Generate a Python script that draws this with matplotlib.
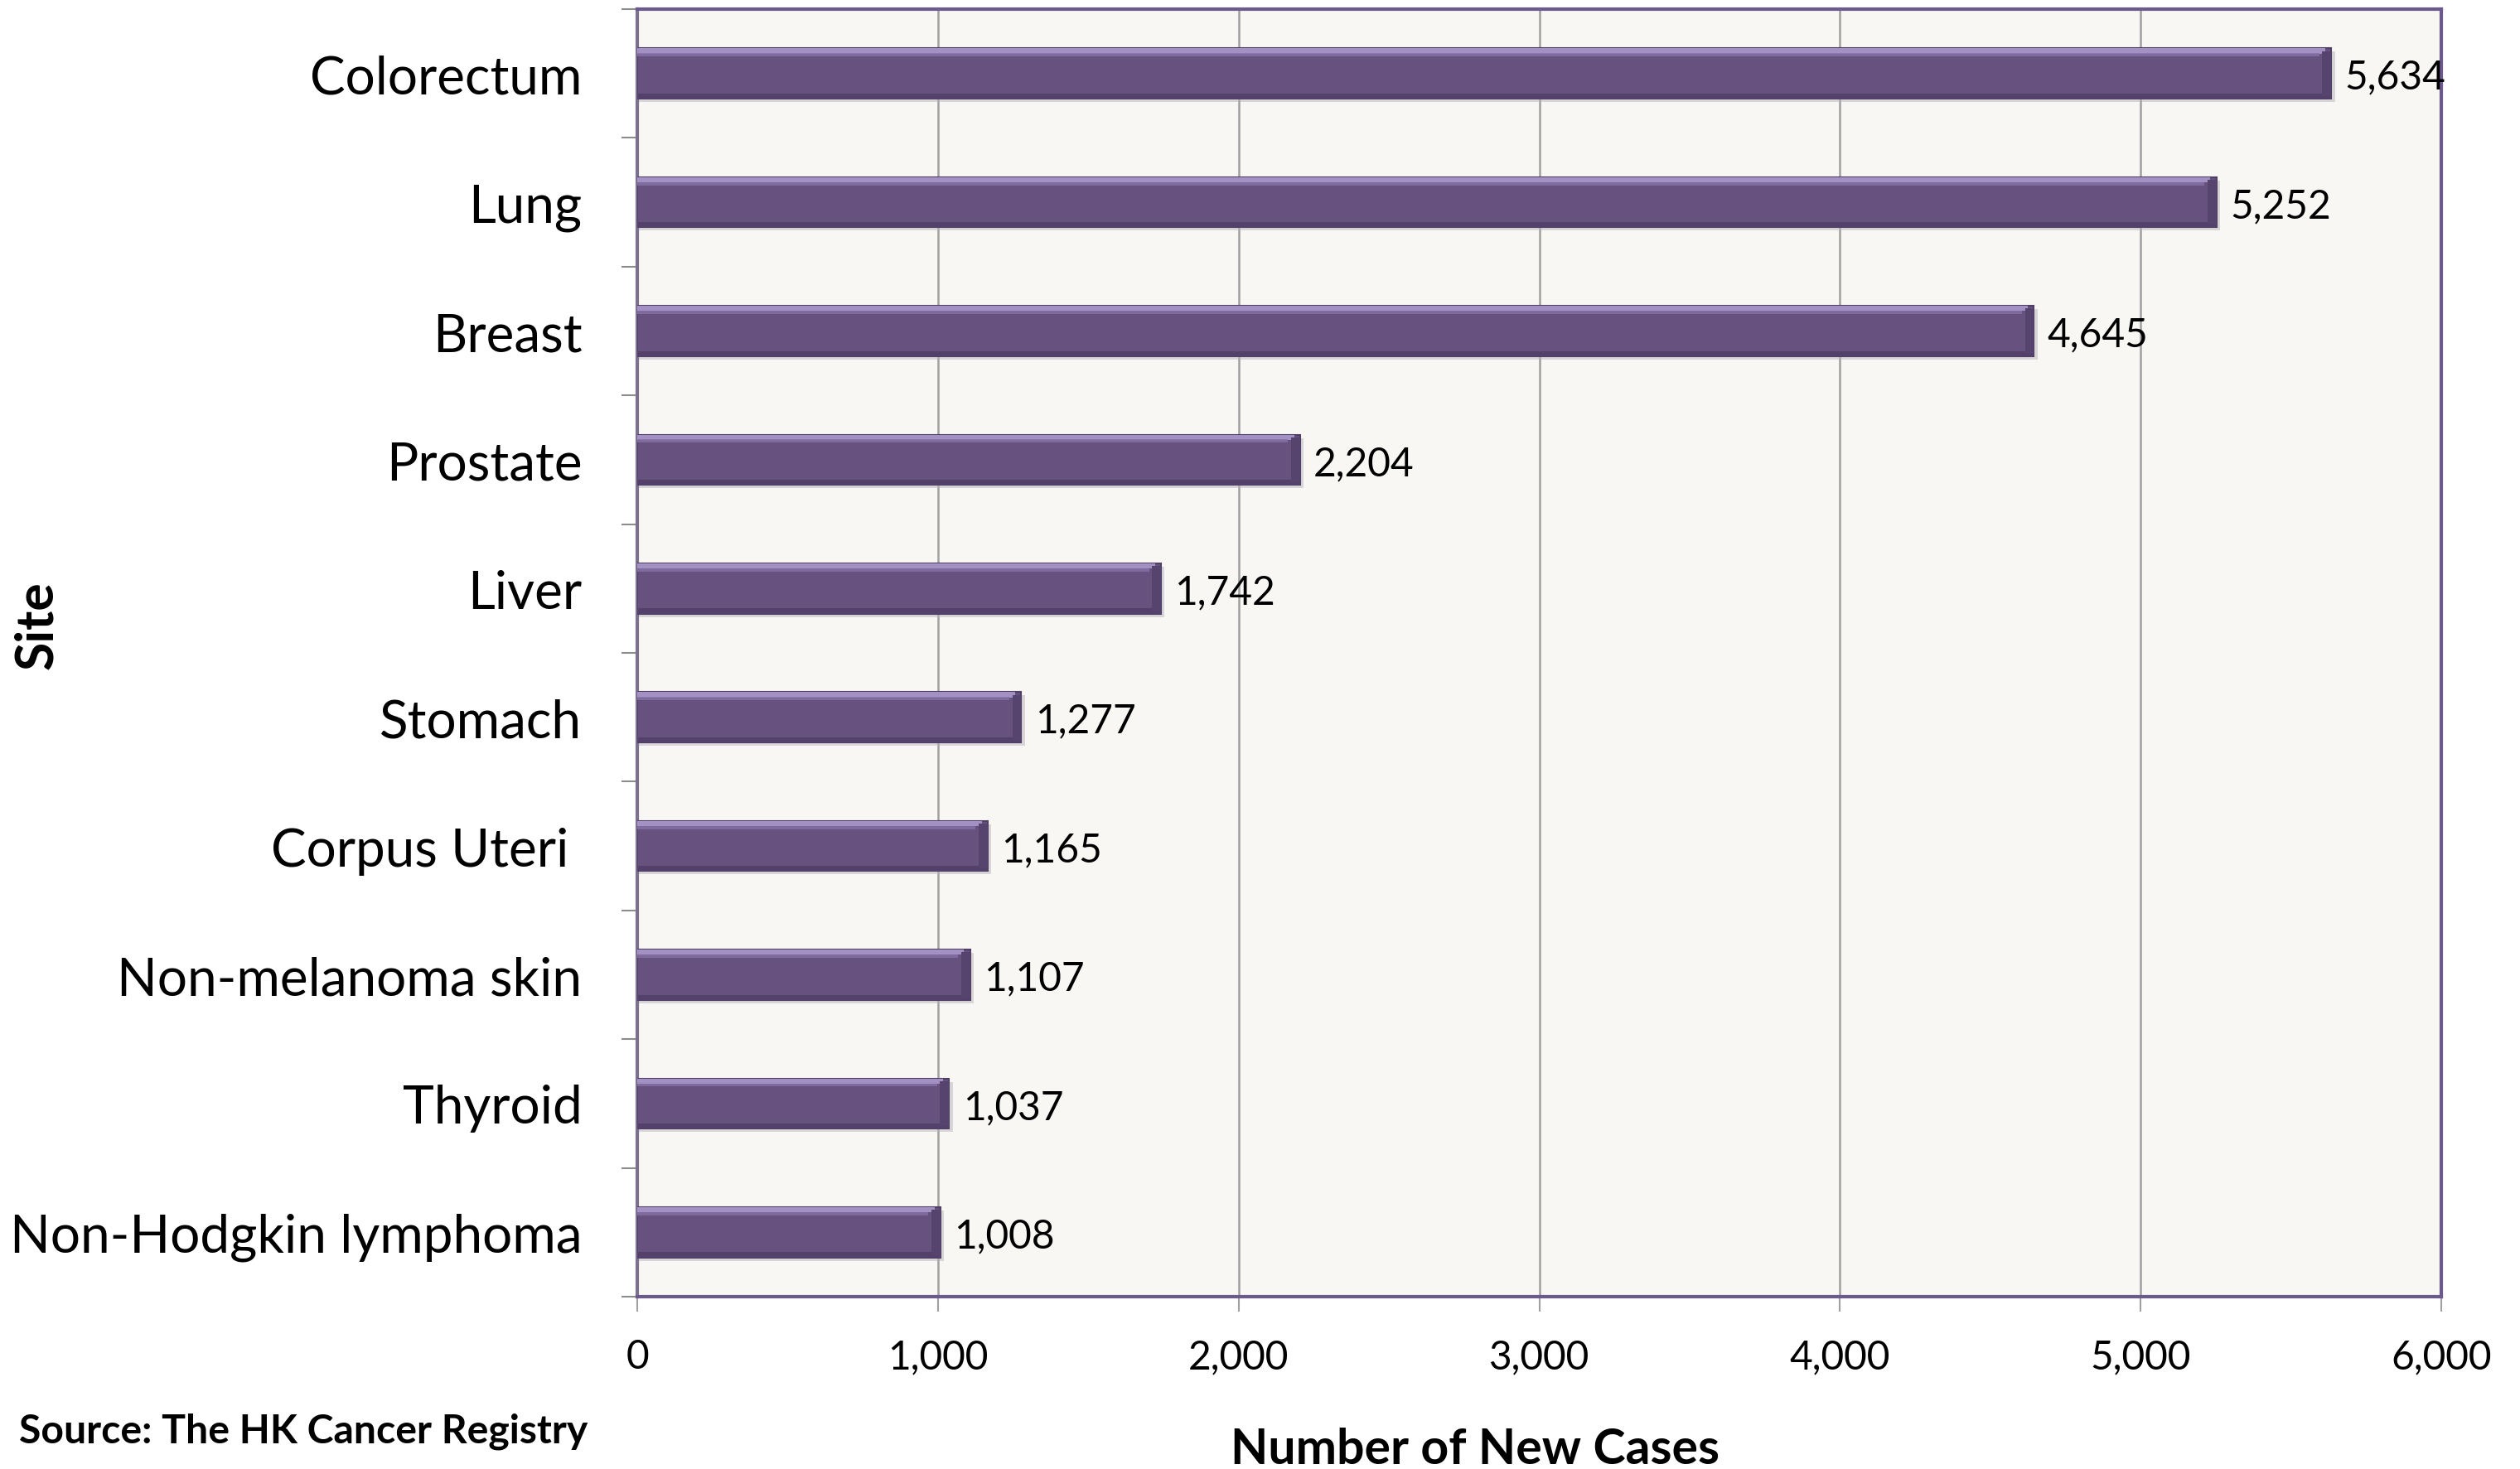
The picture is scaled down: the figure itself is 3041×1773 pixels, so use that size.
import matplotlib
matplotlib.use("Agg")
import matplotlib.pyplot as plt
import numpy as np

sites = ["Colorectum", "Lung", "Breast", "Prostate", "Liver", "Stomach",
         "Corpus Uteri ", "Non-melanoma skin", "Thyroid", "Non-Hodgkin lymphoma"]
new_cases = [5634, 5252, 4645, 2204, 1742, 1277, 1165, 1107, 1037, 1008]
x_ticks = [0, 1000, 2000, 3000, 4000, 5000, 6000]
x_tick_labels = ["0", "1,000", "2,000", "3,000", "4,000", "5,000", "6,000"]

FONT = "Lato"
plt.rcParams["font.family"] = [FONT, "DejaVu Sans"]

fig = plt.figure(figsize=(30.41, 17.74), dpi=100)
ax = fig.add_axes([0.2529, 0.1172, 0.9688 - 0.2529, 0.9932 - 0.1172])
ax.set_facecolor("#F8F7F3")

ypos = np.arange(len(sites))
vals = np.array(new_cases, dtype=float)
h = 0.39

# shadow
ax.barh(ypos + 0.025, vals + 12, height=h, color="#B8B4BC", alpha=0.5, zorder=2, linewidth=0)
# main bar
ax.barh(ypos, vals, height=h, color="#67517F", edgecolor="#4F3F66", linewidth=1.5, zorder=3)
# top highlight
ax.barh(ypos - h / 2 + 0.02, vals - 20, height=0.04, left=0, color="#A491C4", linewidth=0, zorder=4)
ax.barh(ypos - h / 2 + 0.05, vals - 40, height=0.025, left=0, color="#8772A6", linewidth=0, zorder=4, alpha=0.8)
# bottom dark edge
ax.barh(ypos + h / 2 - 0.02, vals, height=0.04, color="#54416B", linewidth=0, zorder=4)
# right end bevel
ax.barh(ypos, np.full_like(vals, 30), left=vals - 30, height=h - 0.04, color="#56446E", linewidth=0, zorder=4)

for y, v in zip(ypos, new_cases):
    ax.text(v + 45, y, f"{v:,}", va="center_baseline", ha="left", fontsize=34.5, color="black", zorder=5)

ax.set_xlim(0, 6000)
ax.set_ylim(len(sites) - 0.5, -0.5)
ax.set_xticks(x_ticks)
ax.set_xticklabels(x_tick_labels, fontsize=34.5)
ax.set_yticks(ypos)
ax.set_yticklabels(sites, fontsize=46)
ax.set_yticks(np.arange(-0.5, len(sites)), minor=True)
ax.tick_params(axis="y", which="major", length=0, pad=48)
ax.tick_params(axis="y", which="minor", length=14, width=1.5, color="#8C8C8C")
ax.tick_params(axis="x", which="major", length=13, width=1.5, color="#A0A0A0", pad=23)

ax.grid(axis="x", color="#A0A0A0", linewidth=1.8, zorder=1)
ax.set_axisbelow(True)

for side in ["top", "right", "bottom"]:
    ax.spines[side].set_color("#6B5A8B")
    ax.spines[side].set_linewidth(3)
ax.spines["left"].set_color("#7C7290")
ax.spines["left"].set_linewidth(3)

fig.text(1780 / 3041, 1 - 1750 / 1774, "Number of New Cases", ha="center", va="center",
         fontsize=42.5, fontweight="bold")
fig.text(23 / 3041, 1 - 1728 / 1774, "Source: The HK Cancer Registry", ha="left", va="center",
         fontsize=34.7, fontweight="bold")
fig.text(45 / 3041, 1 - 755 / 1774, "Site", ha="center", va="center", rotation=90,
         fontsize=45, fontweight="bold")

fig.savefig("out.png", dpi=100)
